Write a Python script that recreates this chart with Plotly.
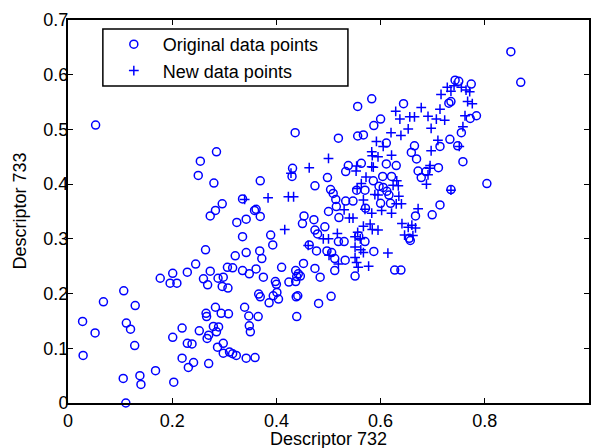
import plotly.graph_objects as go

# ---- data ----
orig_pts = [
    (0.028, 0.149), (0.029, 0.087), (0.052, 0.128), (0.068, 0.185), (0.053, 0.508),
    (0.107, 0.205), (0.112, 0.146), (0.120, 0.135), (0.129, 0.178), (0.128, 0.105),
    (0.106, 0.045), (0.138, 0.050), (0.140, 0.034), (0.111, 0.000), (0.168, 0.059), (0.203, 0.038),
    (0.177, 0.228), (0.196, 0.219), (0.201, 0.237), (0.209, 0.219), (0.229, 0.239), (0.245, 0.254),
    (0.264, 0.280), (0.260, 0.227), (0.268, 0.216), (0.273, 0.241), (0.288, 0.228), (0.298, 0.230),
    (0.296, 0.213), (0.307, 0.210), (0.306, 0.248), (0.316, 0.247), (0.321, 0.269), (0.335, 0.304),
    (0.335, 0.242), (0.342, 0.275), (0.348, 0.236), (0.361, 0.245), (0.368, 0.278), (0.372, 0.264),
    (0.375, 0.230), (0.389, 0.307), (0.393, 0.289), (0.410, 0.248), (0.398, 0.222), (0.400, 0.217),
    (0.424, 0.221), (0.437, 0.242), (0.439, 0.231), (0.437, 0.222),
    (0.366, 0.199), (0.369, 0.194), (0.386, 0.183), (0.394, 0.196), (0.401, 0.202), (0.404, 0.190),
    (0.438, 0.194), (0.439, 0.158),
    (0.201, 0.120), (0.219, 0.137), (0.229, 0.109), (0.238, 0.108), (0.252, 0.132), (0.265, 0.164),
    (0.266, 0.158), (0.267, 0.118), (0.270, 0.124), (0.279, 0.140), (0.283, 0.175), (0.285, 0.130),
    (0.289, 0.139), (0.294, 0.164), (0.308, 0.163), (0.287, 0.102), (0.298, 0.109), (0.298, 0.091),
    (0.310, 0.093), (0.316, 0.090), (0.323, 0.087), (0.342, 0.082), (0.359, 0.083),
    (0.219, 0.082), (0.231, 0.065), (0.241, 0.074), (0.270, 0.072),
    (0.339, 0.175), (0.347, 0.159), (0.365, 0.158), (0.348, 0.141), (0.350, 0.130),
    (0.254, 0.442), (0.285, 0.459), (0.250, 0.416), (0.280, 0.402), (0.273, 0.342), (0.283, 0.352),
    (0.296, 0.364), (0.324, 0.330), (0.342, 0.336), (0.335, 0.373), (0.358, 0.352), (0.361, 0.354),
    (0.369, 0.341), (0.369, 0.406), (0.431, 0.429), (0.430, 0.414), (0.436, 0.494),
    (0.453, 0.342), (0.450, 0.328), (0.472, 0.335), (0.500, 0.350), (0.515, 0.359), (0.520, 0.339),
    (0.474, 0.316), (0.479, 0.309), (0.493, 0.322), (0.463, 0.289), (0.477, 0.278), (0.497, 0.278),
    (0.506, 0.275), (0.512, 0.264), (0.532, 0.261),
    (0.452, 0.255), (0.442, 0.236), (0.446, 0.232), (0.441, 0.196),
    (0.481, 0.182), (0.505, 0.195), (0.474, 0.246), (0.484, 0.230), (0.512, 0.242),
    (0.519, 0.295), (0.530, 0.295), (0.570, 0.295), (0.558, 0.305),
    (0.587, 0.277), (0.551, 0.232), (0.627, 0.243), (0.639, 0.243),
    (0.655, 0.301), (0.657, 0.297),
    (0.498, 0.412), (0.474, 0.397), (0.504, 0.390), (0.509, 0.383), (0.514, 0.372), (0.533, 0.369),
    (0.547, 0.369), (0.533, 0.423), (0.538, 0.434), (0.563, 0.438), (0.519, 0.484), (0.556, 0.488),
    (0.567, 0.490), (0.583, 0.556), (0.556, 0.542), (0.644, 0.547), (0.600, 0.519), (0.587, 0.507),
    (0.611, 0.475), (0.611, 0.437), (0.630, 0.434), (0.604, 0.414), (0.621, 0.414), (0.586, 0.406),
    (0.605, 0.394), (0.597, 0.396), (0.612, 0.387), (0.616, 0.380), (0.600, 0.365), (0.619, 0.365),
    (0.571, 0.356), (0.554, 0.389), (0.570, 0.389),
    (0.665, 0.470), (0.659, 0.458), (0.669, 0.446), (0.672, 0.424), (0.678, 0.412), (0.687, 0.423),
    (0.667, 0.342), (0.699, 0.344), (0.714, 0.362), (0.735, 0.390), (0.804, 0.401), (0.711, 0.430),
    (0.714, 0.469), (0.733, 0.482), (0.748, 0.470), (0.755, 0.494), (0.758, 0.441), (0.772, 0.520),
    (0.784, 0.525), (0.743, 0.590), (0.750, 0.588), (0.774, 0.583), (0.735, 0.551), (0.731, 0.548),
    (0.850, 0.642), (0.869, 0.586),
]

new_pts = [
    (0.339, 0.372), (0.384, 0.375), (0.423, 0.377), (0.433, 0.377), (0.416, 0.317), (0.428, 0.420),
    (0.555, 0.392), (0.547, 0.338), (0.517, 0.310), (0.500, 0.300), (0.490, 0.300), (0.461, 0.288),
    (0.501, 0.270), (0.519, 0.254), (0.551, 0.304), (0.551, 0.285), (0.551, 0.266), (0.554, 0.257),
    (0.557, 0.248), (0.561, 0.300), (0.556, 0.312),
    (0.567, 0.275), (0.584, 0.317), (0.567, 0.323), (0.577, 0.250), (0.614, 0.274), (0.562, 0.280),
    (0.641, 0.328), (0.660, 0.325), (0.646, 0.307), (0.653, 0.321), (0.662, 0.306), (0.667, 0.320),
    (0.580, 0.327), (0.595, 0.316),
    (0.624, 0.398), (0.640, 0.364), (0.595, 0.380), (0.672, 0.355), (0.688, 0.400),
    (0.570, 0.354), (0.583, 0.347), (0.602, 0.352), (0.621, 0.347), (0.630, 0.364), (0.635, 0.378),
    (0.540, 0.338), (0.530, 0.353),
    (0.567, 0.371), (0.589, 0.381), (0.634, 0.397), (0.631, 0.406), (0.563, 0.401), (0.572, 0.413),
    (0.694, 0.429), (0.691, 0.417), (0.695, 0.434), (0.586, 0.431),
    (0.554, 0.433), (0.553, 0.424), (0.583, 0.432), (0.463, 0.430), (0.500, 0.447),
    (0.605, 0.469), (0.595, 0.450), (0.584, 0.452), (0.621, 0.453), (0.697, 0.461), (0.583, 0.459),
    (0.592, 0.478), (0.710, 0.480), (0.751, 0.469),
    (0.620, 0.494), (0.639, 0.489), (0.653, 0.501), (0.697, 0.502),
    (0.758, 0.505), (0.762, 0.525),
    (0.629, 0.533), (0.678, 0.540), (0.637, 0.519), (0.656, 0.523), (0.665, 0.523), (0.691, 0.524),
    (0.707, 0.519), (0.714, 0.537), (0.723, 0.517),
    (0.716, 0.564), (0.728, 0.577), (0.741, 0.580), (0.755, 0.577), (0.764, 0.572), (0.771, 0.569),
    (0.767, 0.551), (0.776, 0.547), (0.735, 0.570),
    (0.735, 0.389),
]

orig_x = [p[0] for p in orig_pts]
orig_y = [p[1] for p in orig_pts]
new_x = [p[0] for p in new_pts]
new_y = [p[1] for p in new_pts]

x_ticks = [0, 0.2, 0.4, 0.6, 0.8, 1]
x_ticktext = ["0", "0.2", "0.4", "0.6", "0.8", "1"]
y_ticks = [0, 0.1, 0.2, 0.3, 0.4, 0.5, 0.6, 0.7]
y_ticktext = ["0", "0.1", "0.2", "0.3", "0.4", "0.5", "0.6", "0.7"]

series_names = ["Original data points", "New data points"]
x_title = "Descriptor 732"
y_title = "Descriptor 733"

# ---- figure ----
BLUE = "#0000FF"
FONT = "Liberation Sans, Arial, Helvetica, sans-serif"
W, H = 592, 448
# plot area in window pixels: x 68..591, y 20..403
L, T = 68, 20
R = W - 591
B = H - 403
pw, ph = W - L - R, H - T - B


def px2paper_x(px):
    return (px - L) / pw


def px2paper_y(py):
    return (H - B - py) / ph


fig = go.Figure()
fig.add_trace(go.Scatter(
    x=orig_x, y=orig_y, mode="markers", name="\u2002" + series_names[0],
    marker=dict(symbol="circle-open", size=8, color=BLUE, line=dict(width=1.5, color=BLUE)),
    cliponaxis=False,
))
fig.add_trace(go.Scatter(
    x=new_x, y=new_y, mode="markers", name="\u2002" + series_names[1],
    marker=dict(symbol="cross-thin-open", size=7, color=BLUE, line=dict(width=1.5, color=BLUE)),
    cliponaxis=False,
))

axis_common = dict(
    showline=True, linecolor="black", linewidth=2, mirror="ticks",
    ticks="inside", ticklen=5, tickwidth=1, tickcolor="black",
    showgrid=False, zeroline=False,
    tickfont=dict(family=FONT, size=18, color="black"),
)

fig.update_layout(
    width=W, height=H,
    margin=dict(l=L, r=R, t=T, b=B, pad=0),
    paper_bgcolor="white", plot_bgcolor="white",
    font=dict(family=FONT, size=18, color="black"),
    xaxis=dict(range=[0, 1], tickvals=x_ticks, ticktext=x_ticktext,
               ticklabelstandoff=0, **axis_common),
    yaxis=dict(range=[0, 0.7], tickvals=y_ticks, ticktext=y_ticktext,
               ticklabelstandoff=-6, **axis_common),
    showlegend=True,
    legend=dict(
        x=px2paper_x(114), y=px2paper_y(26), xanchor="left", yanchor="top",
        bgcolor="rgba(0,0,0,0)", borderwidth=0,
        font=dict(family=FONT, size=18, color="black"),
    ),
    shapes=[dict(
        type="rect", xref="paper", yref="paper",
        x0=px2paper_x(103), x1=px2paper_x(349), y0=px2paper_y(86), y1=px2paper_y(29),
        line=dict(color="black", width=1.5), fillcolor="white", layer="below",
    )],
    annotations=[
        dict(text=x_title, xref="paper", yref="paper", x=0.5, y=0, xanchor="center",
             yanchor="middle", yshift=-36, showarrow=False,
             font=dict(family=FONT, size=18, color="black")),
        dict(text=y_title, xref="paper", yref="paper", x=0, y=0.5, xanchor="center",
             yanchor="middle", xshift=-49, textangle=-90, showarrow=False,
             font=dict(family=FONT, size=18, color="black")),
    ],
)

fig.write_html(
    "out.html",
    config={"displayModeBar": False},
    post_script=(
        "document.documentElement.style.overflow='hidden';"
        "document.body.style.overflow='hidden';"
        "document.body.style.margin='0';"
    ),
)
